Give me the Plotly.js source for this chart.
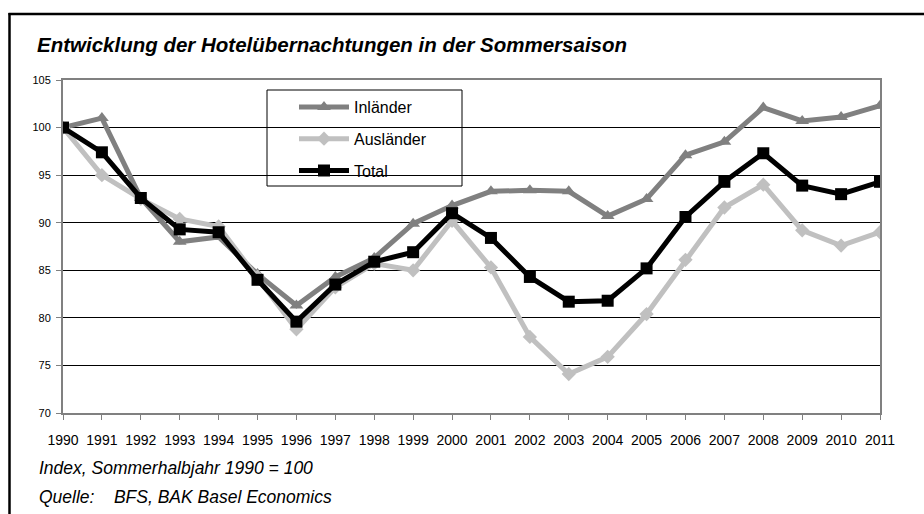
<!DOCTYPE html>
<html>
<head>
<meta charset="utf-8">
<script src="https://cdn.plot.ly/plotly-3.0.1.min.js"></script>
<style>html,body{margin:0;padding:0;background:#fff;}#chart{width:924px;height:514px;}</style>
</head>
<body>
<div id="chart"></div>
<script>
const years = [1990,1991,1992,1993,1994,1995,1996,1997,1998,1999,2000,2001,2002,2003,2004,2005,2006,2007,2008,2009,2010,2011];
const inlaender = [100,101.0,92.6,88.0,88.5,84.6,81.3,84.3,86.3,89.9,91.8,93.3,93.4,93.3,90.7,92.5,97.1,98.5,102.1,100.7,101.1,102.3];
const auslaender = [100,95.0,92.5,90.4,89.6,84.3,78.8,83.2,85.7,85.0,90.2,85.3,78.0,74.1,75.9,80.4,86.1,91.6,94.0,89.2,87.6,89.0];
const total = [100,97.4,92.6,89.3,89.0,84.0,79.6,83.5,85.9,86.9,91.0,88.4,84.3,81.7,81.8,85.2,90.6,94.3,97.3,93.9,93.0,94.3];
const seriesNames = ['Inländer','Ausländer','Total'];
const titleText = 'Entwicklung der Hotelübernachtungen in der Sommersaison';
const note1 = 'Index, Sommerhalbjahr 1990 = 100';
const note2 = 'Quelle:\u00a0\u00a0\u00a0\u00a0BFS, BAK Basel Economics';

const W = 924, H = 514, L = 63, R = 880, T = 80, B = 413;
const px = x => (x - L) / (R - L);
const py = y => (B - y) / (B - T);
const FONT = 'Liberation Sans, Arial, sans-serif';

const traces = [
  {x: years, y: inlaender, name: seriesNames[0], legendgroup: 'a', type: 'scatter', mode: 'lines+markers',
   line: {color: '#808080', width: 5}, marker: {symbol: 'triangle-up', size: 12, color: '#808080'}},
  {x: years, y: auslaender, name: seriesNames[1], legendgroup: 'b', type: 'scatter', mode: 'lines+markers',
   line: {color: '#c0c0c0', width: 5}, marker: {symbol: 'diamond', size: 11, color: '#c0c0c0'}},
  {x: years, y: total, name: seriesNames[2], legendgroup: 'c', type: 'scatter', mode: 'lines+markers',
   line: {color: '#000000', width: 5}, marker: {symbol: 'square', size: 12, color: '#000000'}}
];

const layout = {
  width: W, height: H,
  margin: {l: L, r: W - R, t: T, b: H - B, pad: 0},
  paper_bgcolor: '#ffffff', plot_bgcolor: '#ffffff',
  font: {family: FONT, color: '#000'},
  showlegend: true,
  title: {text: '<b><i>' + titleText + '</i></b>', x: 37 / W, xanchor: 'left', xref: 'container',
          y: 1 - 45 / H, yanchor: 'middle', yref: 'container', font: {family: FONT, size: 20.5, color: '#000'}},
  xaxis: {range: [1990, 2011], tickmode: 'array', tickvals: years, ticktext: years.map(String),
          showgrid: false, zeroline: false, showline: true, linecolor: '#808080', linewidth: 2, mirror: true,
          ticks: 'outside', ticklen: 5, tickcolor: '#808080', tickwidth: 1,
          tickfont: {family: FONT, size: 14, color: '#000'}, ticklabelstandoff: 8, fixedrange: true},
  yaxis: {range: [70, 105], tickmode: 'linear', tick0: 70, dtick: 5,
          showgrid: true, gridcolor: '#000000', gridwidth: 1, zeroline: false,
          showline: true, linecolor: '#808080', linewidth: 2, mirror: true,
          ticks: 'outside', ticklen: 5, tickcolor: '#808080', tickwidth: 1,
          tickfont: {family: FONT, size: 11, color: '#000'}, ticklabelstandoff: 3, fixedrange: true},
  legend: {x: px(294), xanchor: 'left', y: py(90), yanchor: 'top', bgcolor: 'rgba(0,0,0,0)',
           borderwidth: 0, font: {family: FONT, size: 16, color: '#000'}, itemwidth: 50,
           traceorder: 'grouped', tracegroupgap: 8},
  shapes: [
    {type: 'rect', xref: 'paper', yref: 'paper', x0: px(267), x1: px(462), y0: py(186), y1: py(90),
     line: {color: '#000', width: 1}, fillcolor: '#fff', layer: 'below'},
    {type: 'line', xref: 'paper', yref: 'paper', x0: px(8.5), x1: px(924), y0: py(14), y1: py(14),
     line: {color: '#000', width: 2.5}},
    {type: 'line', xref: 'paper', yref: 'paper', x0: px(9.5), x1: px(9.5), y0: py(13), y1: py(514),
     line: {color: '#000', width: 2.5}}
  ],
  annotations: [
    {text: '<i>' + note1 + '</i>', xref: 'paper', yref: 'paper', x: px(37), y: py(468), xanchor: 'left', yanchor: 'middle',
     showarrow: false, font: {family: FONT, size: 17.5, color: '#000'}},
    {text: '<i>' + note2 + '</i>', xref: 'paper', yref: 'paper', x: px(37), y: py(497), xanchor: 'left', yanchor: 'middle',
     showarrow: false, font: {family: FONT, size: 17.5, color: '#000'}}
  ]
};

Plotly.newPlot('chart', traces, layout, {displayModeBar: false, staticPlot: true});
</script>
</body>
</html>
